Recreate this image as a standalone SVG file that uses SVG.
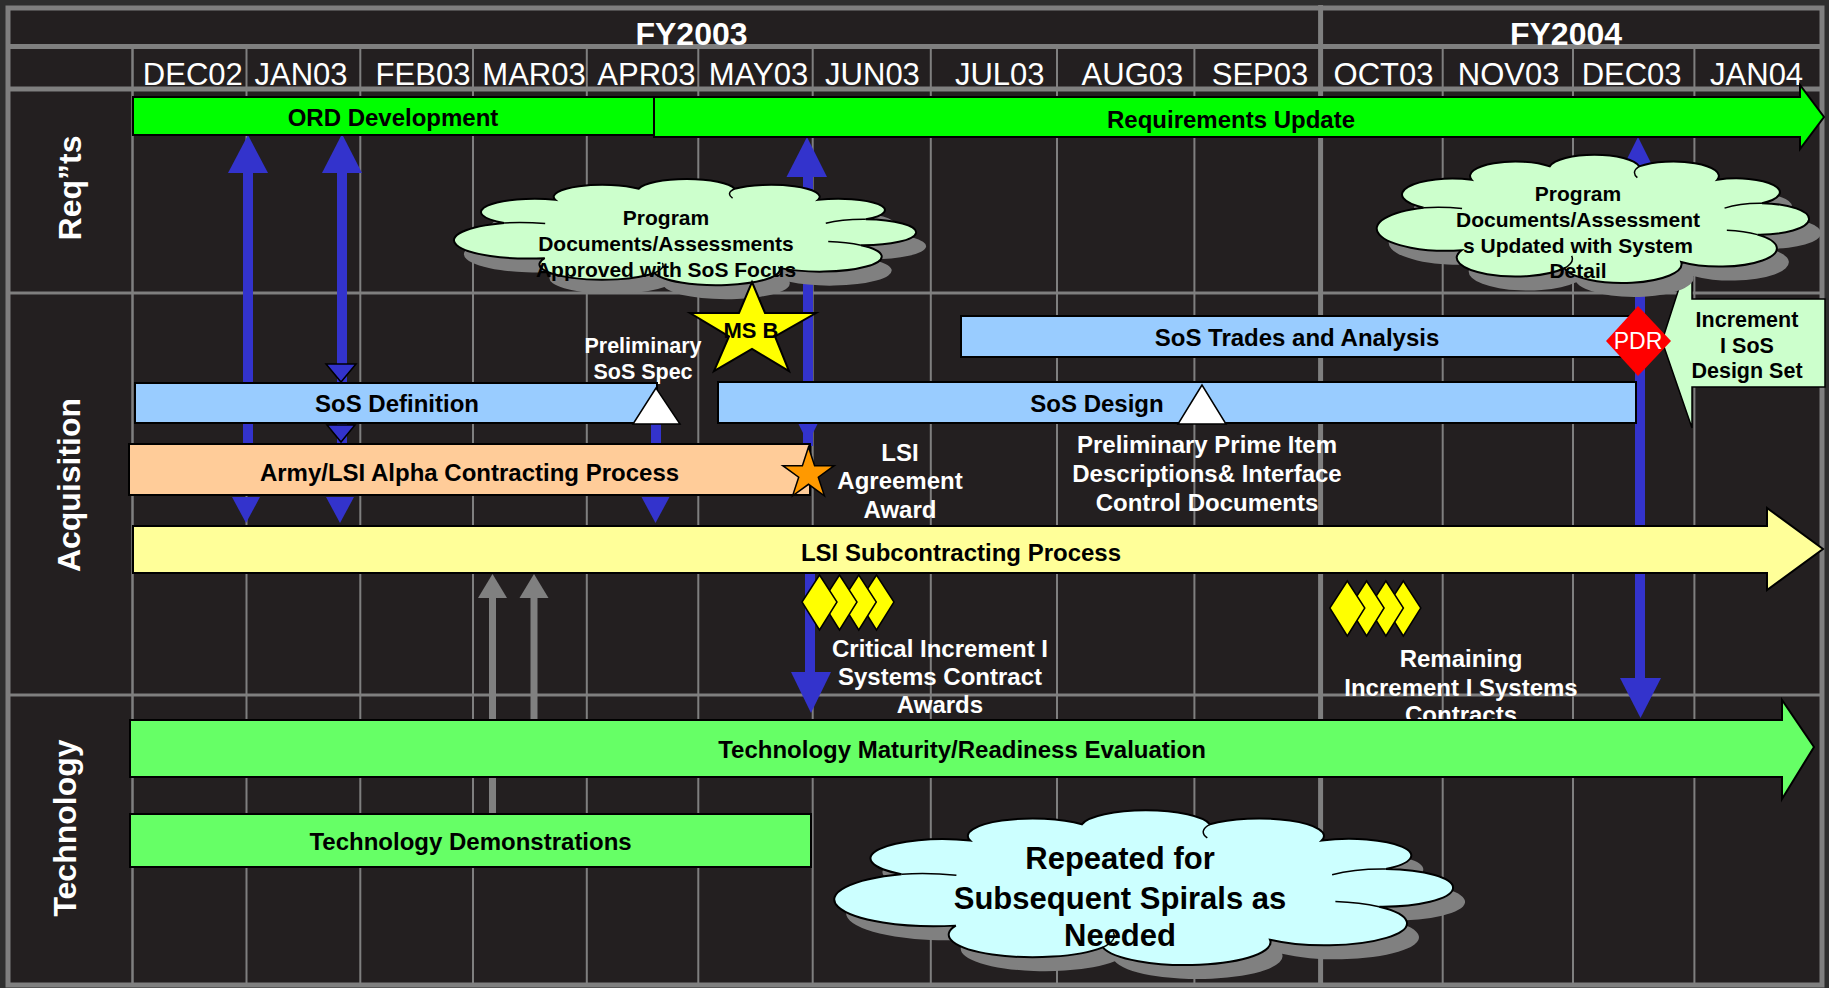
<svg xmlns="http://www.w3.org/2000/svg" xmlns:xlink="http://www.w3.org/1999/xlink" width="1829" height="988" viewBox="0 0 1829 988">
<style>
  .grid { stroke: #7f7f7f; fill: none; }
  .bar { stroke: #000; stroke-width: 2; }
  .lbl { font-family: "Liberation Sans", Arial, sans-serif; font-weight: bold; font-size: 24px; fill: #000; text-anchor: middle; }
  .wl { font-family: "Liberation Sans", Arial, sans-serif; font-weight: bold; font-size: 24px; fill: #fff; text-anchor: middle; }
  .cl { font-family: "Liberation Sans", Arial, sans-serif; font-weight: bold; font-size: 21px; fill: #000; text-anchor: middle; }
  .mon { font-family: "Liberation Sans", Arial, sans-serif; font-size: 31px; fill: #fff; text-anchor: middle; }
  .fy { font-family: "Liberation Sans", Arial, sans-serif; font-weight: bold; font-size: 32px; fill: #fff; text-anchor: middle; }
  .lane { font-family: "Liberation Sans", Arial, sans-serif; font-weight: bold; font-size: 32px; fill: #fff; text-anchor: middle; }
  .blue { fill: #3333cc; }
  .gray { fill: #808080; }
  .shadow { fill: #808080; }
  .inner { fill: none; stroke: #000; stroke-width: 1.5; }
  .dia { fill: #ffff00; stroke: #000; stroke-width: 1.5; }
</style>
<defs>
  <path id="cloud" vector-effect="non-scaling-stroke" d="M 12.6 43.7 A 11 11 0 0 1 23.1 24.5 A 10 10 0 0 1 40.2 15.2 A 10 10 0 0 1 59.8 15.2 A 10 10 0 0 1 76.9 24.5 A 9.5 9.5 0 0 1 86.7 40.7 A 10.8 10.8 0 0 1 85.7 62.3 A 12.6 12.6 0 0 1 69 81.2 A 13 13 0 0 1 43.4 85.5 A 12.9 12.9 0 0 1 20.9 73.1 A 15.3 15.3 0 0 1 12.6 43.7 Z"/>
  <path id="cloudInner" vector-effect="non-scaling-stroke" d="M 12.6 43.7 A 15.3 15.3 0 0 1 21 44.3 M 85.7 62.3 A 12.6 12.6 0 0 0 79 59.3 M 43.4 85.5 A 12.9 12.9 0 0 0 45 77 M 59.8 15.2 A 9.75 9.75 0 0 0 59.4 23 M 86.7 40.7 A 10.8 10.8 0 0 0 78.5 44"/>
</defs>

<!-- background and frame -->
<rect x="0" y="0" width="1829" height="988" fill="#2e2e2e"/>
<rect x="8" y="8" width="1814" height="977" fill="#231f20" stroke="#7f7f7f" stroke-width="5"/>

<g id="grid" class="grid">
  <line x1="10" y1="46.5" x2="1820" y2="46.5" stroke-width="5"/>
  <line x1="10" y1="89" x2="1820" y2="89" stroke-width="5"/>
  <line x1="10" y1="293" x2="1820" y2="293" stroke-width="3"/>
  <line x1="10" y1="695" x2="1820" y2="695" stroke-width="3"/>
  <line x1="132.5" y1="49" x2="132.5" y2="985" stroke-width="2.5"/>
  <line x1="246.5" y1="49" x2="246.5" y2="985" stroke-width="2"/>
  <line x1="360.3" y1="49" x2="360.3" y2="985" stroke-width="2"/>
  <line x1="473" y1="49" x2="473" y2="985" stroke-width="2"/>
  <line x1="586.8" y1="49" x2="586.8" y2="985" stroke-width="2"/>
  <line x1="698.3" y1="49" x2="698.3" y2="985" stroke-width="2"/>
  <line x1="812.7" y1="49" x2="812.7" y2="985" stroke-width="2"/>
  <line x1="930.8" y1="49" x2="930.8" y2="985" stroke-width="2"/>
  <line x1="1057" y1="49" x2="1057" y2="985" stroke-width="2"/>
  <line x1="1194.4" y1="49" x2="1194.4" y2="985" stroke-width="2"/>
  <line x1="1320.6" y1="5" x2="1320.6" y2="985" stroke-width="5"/>
  <line x1="1442.7" y1="49" x2="1442.7" y2="985" stroke-width="2"/>
  <line x1="1573" y1="49" x2="1573" y2="985" stroke-width="2"/>
  <line x1="1694.4" y1="49" x2="1694.4" y2="985" stroke-width="2"/>
</g>

<g id="header">
  <text class="fy" x="691.5" y="45">FY2003</text>
  <text class="fy" x="1566" y="45">FY2004</text>
  <text class="mon" x="192.8" y="85">DEC02</text>
  <text class="mon" x="301" y="85">JAN03</text>
  <text class="mon" x="423" y="85">FEB03</text>
  <text class="mon" x="534" y="85">MAR03</text>
  <text class="mon" x="646.4" y="85">APR03</text>
  <text class="mon" x="758.5" y="85">MAY03</text>
  <text class="mon" x="872.5" y="85">JUN03</text>
  <text class="mon" x="999.8" y="85">JUL03</text>
  <text class="mon" x="1132.4" y="85">AUG03</text>
  <text class="mon" x="1260" y="85">SEP03</text>
  <text class="mon" x="1383.5" y="85">OCT03</text>
  <text class="mon" x="1508.7" y="85">NOV03</text>
  <text class="mon" x="1631.6" y="85">DEC03</text>
  <text class="mon" x="1756.6" y="85">JAN04</text>
</g>

<g id="lanes">
  <text class="lane" transform="translate(81,188) rotate(-90)">Req”ts</text>
  <text class="lane" transform="translate(79.5,485) rotate(-90)">Acquisition</text>
  <text class="lane" transform="translate(75.5,828) rotate(-90)">Technology</text>
</g>

<g id="connectors">
  <!-- blue arrows -->
  <rect class="blue" x="243" y="170" width="10" height="276"/>
  <polygon class="blue" points="248,135 228,173 268,173"/>
  <polygon class="blue" points="232,497 260,497 246,523"/>
  <rect class="blue" x="337" y="170" width="10" height="276"/>
  <polygon class="blue" points="342,134 322,173 362,173"/>
  <polygon class="blue" stroke="#000" stroke-width="1.5" points="326,364 356,364 341,382"/>
  <polygon class="blue" stroke="#000" stroke-width="1.5" points="327,425 355,425 341,442"/>
  <polygon class="blue" points="326,497 354,497 340,523"/>
  <rect class="blue" x="651" y="420" width="10" height="26"/>
  <polygon class="blue" points="641.5,497 669.5,497 655.5,523"/>
  <rect class="blue" x="803" y="174" width="10" height="272"/>
  <polygon class="blue" points="807,137 786.5,177 827,177"/>
  <polygon class="blue" points="798.5,424 817.5,424 808,443"/>
  <rect class="blue" x="805" y="572" width="10" height="105"/>
  <polygon class="blue" points="791,672 831,672 811,713"/>
  <rect class="blue" x="1635" y="172" width="10" height="508"/>
  <polygon class="blue" points="1638,137 1618,177 1658,177"/>
  <polygon class="blue" points="1620,678 1661,678 1640.5,718"/>
  <!-- gray arrows -->
  <rect class="gray" x="489" y="595" width="7" height="220"/>
  <polygon class="gray" points="492.5,574 478,598 507,598"/>
  <rect class="gray" x="530.5" y="595" width="7" height="126"/>
  <polygon class="gray" points="534,574 519.5,598 548.5,598"/>
</g>

<g id="annotations">
  <text class="wl" style="font-size:21.5px"><tspan x="643" y="353">Preliminary</tspan><tspan x="643" y="379">SoS Spec</tspan></text>
  <text class="wl"><tspan x="900" y="460.5">LSI</tspan><tspan x="900" y="488.5">Agreement</tspan><tspan x="900" y="517.5">Award</tspan></text>
  <text class="wl"><tspan x="1207" y="452.5">Preliminary Prime Item</tspan><tspan x="1207" y="481.5">Descriptions&amp; Interface</tspan><tspan x="1207" y="510.5">Control Documents</tspan></text>
  <text class="wl"><tspan x="940" y="656.5">Critical Increment I</tspan><tspan x="940" y="684.5">Systems Contract</tspan><tspan x="940" y="712.5">Awards</tspan></text>
  <text class="wl"><tspan x="1461" y="666.5">Remaining</tspan><tspan x="1461" y="695.5">Increment I Systems</tspan><tspan x="1461" y="723">Contracts</tspan></text>
</g>

<g id="ord-development">
  <rect class="bar" x="133" y="97" width="521" height="38" fill="#00ff00"/>
  <text class="lbl" x="393" y="125.5">ORD Development</text>
</g>
<g id="requirements-update">
  <polygon class="bar" fill="#00ff00" points="654,97 1800,97 1800,85 1824,117 1800,149 1800,137 654,137"/>
  <text class="lbl" x="1231" y="128">Requirements Update</text>
</g>
<g id="sos-definition">
  <rect class="bar" x="135" y="383" width="522" height="40" fill="#99ccff"/>
  <text class="lbl" x="397" y="412">SoS Definition</text>
  <polygon fill="#fff" stroke="#000" stroke-width="1.5" points="656,388 633,424 680,424"/>
</g>
<g id="sos-trades">
  <rect class="bar" x="961" y="316" width="676" height="41" fill="#99ccff"/>
  <text class="lbl" x="1297" y="345.5">SoS Trades and Analysis</text>
</g>
<g id="sos-design">
  <rect class="bar" x="718" y="382" width="918" height="41" fill="#99ccff"/>
  <text class="lbl" x="1097" y="412">SoS Design</text>
  <polygon fill="#fff" stroke="#000" stroke-width="1.5" points="1202,385 1178,424 1226,424"/>
</g>
<g id="army-lsi-alpha">
  <rect class="bar" x="129" y="444" width="681" height="51" fill="#ffcc99"/>
  <text class="lbl" x="469.5" y="481">Army/LSI Alpha Contracting Process</text>
</g>
<g id="lsi-subcontracting">
  <polygon class="bar" fill="#ffff99" points="133,526 1767,526 1767,508 1823,549 1767,590 1767,573 133,573"/>
  <text class="lbl" x="961" y="561">LSI Subcontracting Process</text>
</g>
<g id="tech-maturity">
  <polygon class="bar" fill="#66ff66" points="130,720 1782,720 1782,700 1814,747 1782,799 1782,777 130,777"/>
  <text class="lbl" x="962" y="757.5">Technology Maturity/Readiness Evaluation</text>
</g>
<g id="tech-demonstrations">
  <rect class="bar" x="130" y="814" width="681" height="53" fill="#66ff66"/>
  <text class="lbl" x="470.6" y="850">Technology Demonstrations</text>
</g>

<g id="critical-awards-diamonds">
  <polygon class="dia" points="876.5,575 894,602 876.5,630 859,602"/>
  <polygon class="dia" points="858.8,575 876.3,602 858.8,630 841.3,602"/>
  <polygon class="dia" points="839.5,575 857,602 839.5,630 822,602"/>
  <polygon class="dia" points="819.5,575 837,602 819.5,630 802,602"/>
</g>
<g id="remaining-awards-diamonds">
  <polygon class="dia" points="1403.3,581 1420.8,608 1403.3,636 1385.8,608"/>
  <polygon class="dia" points="1385.9,581 1403.4,608 1385.9,636 1368.4,608"/>
  <polygon class="dia" points="1366.6,581 1384.1,608 1366.6,636 1349.1,608"/>
  <polygon class="dia" points="1347.3,581 1364.8,608 1347.3,636 1329.8,608"/>
</g>

<g id="increment-callout">
  <polygon fill="#ccffcc" stroke="#000" stroke-width="1.5" points="1681,282 1662,341 1692,428 1692,387 1825,387 1825,299 1692,299 1692,282"/>
  <text class="cl" style="font-size:21.5px"><tspan x="1747" y="327">Increment</tspan><tspan x="1747" y="353">I SoS</tspan><tspan x="1747" y="378">Design Set</tspan></text>
</g>

<g id="cloud-approved">
  <use xlink:href="#cloud" href="#cloud" class="shadow" transform="translate(452.7,184.5) scale(4.880,1.199)"/>
  <use xlink:href="#cloud" href="#cloud" fill="#ccffcc" stroke="#000" stroke-width="2" transform="translate(442.7,170.5) scale(4.880,1.199)"/>
  <use xlink:href="#cloudInner" href="#cloudInner" class="inner" transform="translate(442.7,170.5) scale(4.880,1.199)"/>
  <text class="cl"><tspan x="666" y="224.5">Program</tspan><tspan x="666" y="250.5">Documents/Assessments</tspan><tspan x="666" y="276.5">Approved with SoS Focus</tspan></text>
</g>
<g id="cloud-updated">
  <use xlink:href="#cloud" href="#cloud" class="shadow" transform="translate(1378.2,158.3) scale(4.565,1.45)"/>
  <use xlink:href="#cloud" href="#cloud" fill="#ccffcc" stroke="#000" stroke-width="2" transform="translate(1366.2,144.3) scale(4.565,1.45)"/>
  <use xlink:href="#cloudInner" href="#cloudInner" class="inner" transform="translate(1366.2,144.3) scale(4.565,1.45)"/>
  <text class="cl"><tspan x="1578" y="200.5">Program</tspan><tspan x="1578" y="226.5">Documents/Assessment</tspan><tspan x="1578" y="252.5">s Updated with System</tspan><tspan x="1578" y="277.5">Detail</tspan></text>
</g>
<g id="cloud-repeated">
  <use xlink:href="#cloud" href="#cloud" class="shadow" transform="translate(831.2,811.7) scale(6.534,1.75)"/>
  <use xlink:href="#cloud" href="#cloud" fill="#ccffff" stroke="#000" stroke-width="2" transform="translate(819.2,797.7) scale(6.534,1.75)"/>
  <use xlink:href="#cloudInner" href="#cloudInner" class="inner" transform="translate(819.2,797.7) scale(6.534,1.75)"/>
  <text class="lbl" style="font-size:31px"><tspan x="1120" y="869">Repeated for</tspan><tspan x="1120" y="909">Subsequent Spirals as</tspan><tspan x="1120" y="946">Needed</tspan></text>
</g>

<g id="ms-b">
  <polygon fill="#ffff00" stroke="#000" stroke-width="2" points="752,282 765,313 816,313 775,336.5 789,371 752,349 714,371 729,336.5 690,313 739,313"/>
  <text class="lbl" style="font-size:22px" x="751" y="338">MS B</text>
</g>
<g id="lsi-agreement-star">
  <polygon fill="#ff9900" stroke="#000" stroke-width="1.5" points="808.5,447 814.6,465.7 834.2,465.7 818.3,477.2 824.4,495.8 808.5,484.3 792.6,495.8 798.7,477.2 782.8,465.7 802.4,465.7"/>
</g>
<g id="pdr">
  <polygon fill="#ff0000" points="1638,306 1671,341 1638,376 1606,341"/>
  <text x="1638" y="349" style="font-family:'Liberation Sans',Arial,sans-serif;font-size:23px;fill:#fff;text-anchor:middle">PDR</text>
</g>
</svg>
